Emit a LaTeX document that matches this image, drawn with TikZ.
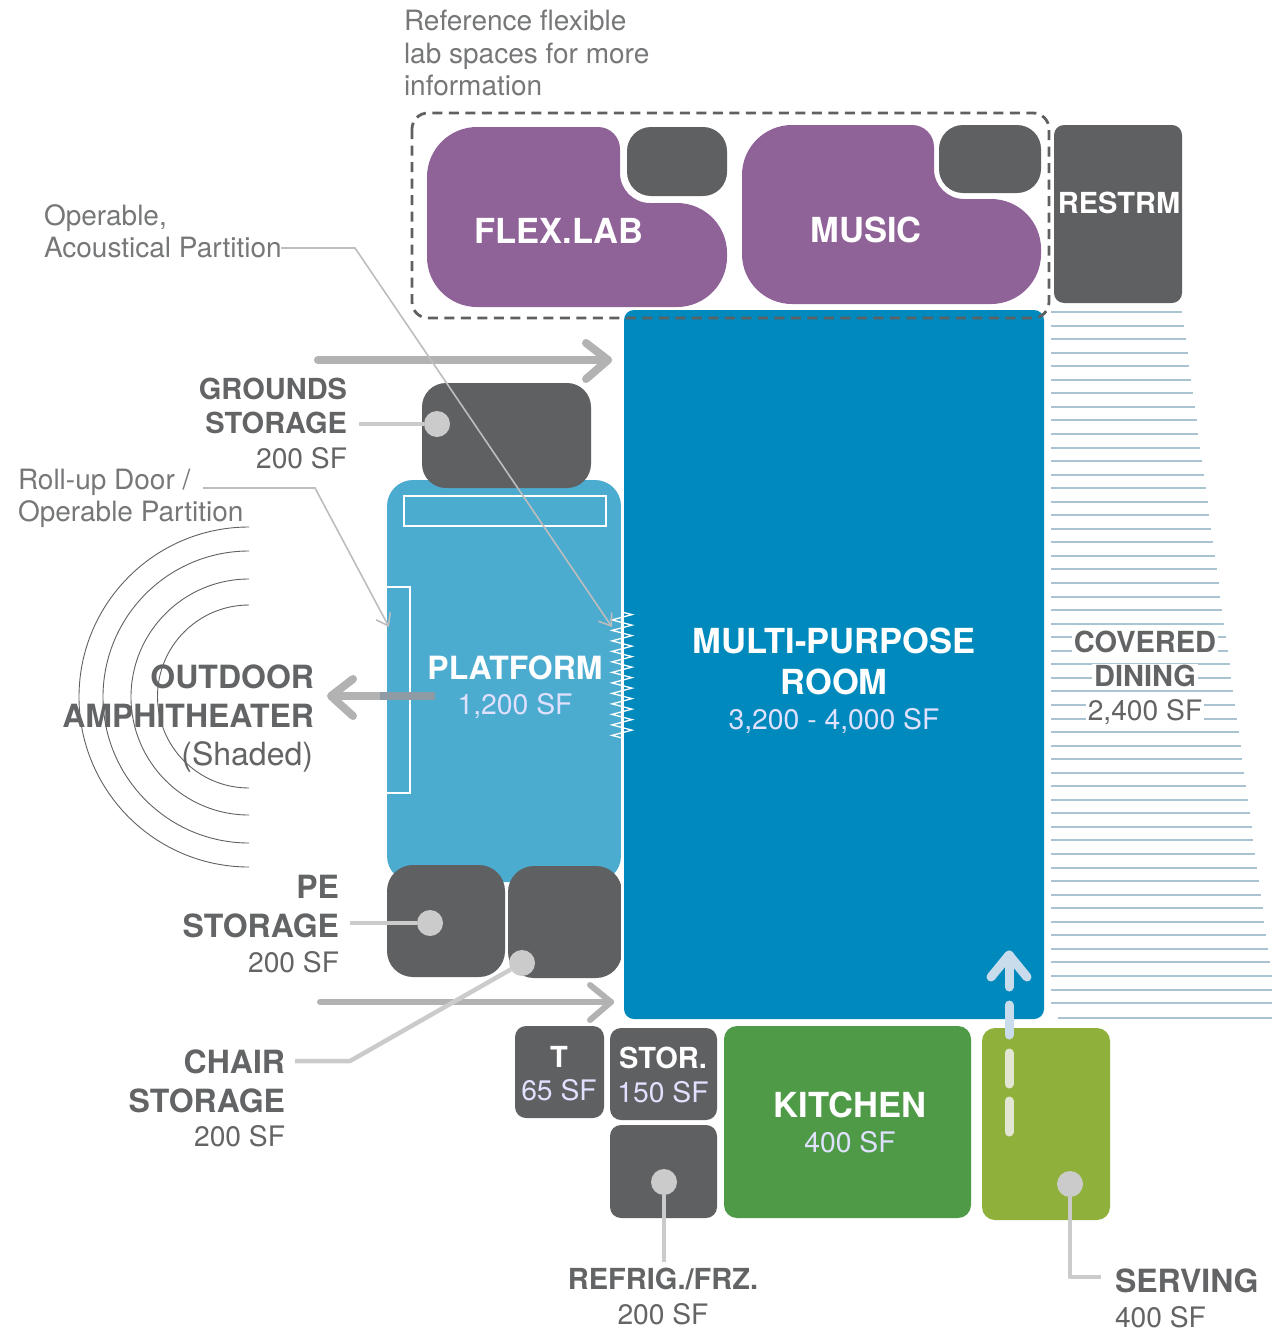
\documentclass[tikz,border=0pt]{standalone}
\usepackage{fontspec}
\setmainfont{TeX Gyre Heros}
\usetikzlibrary{decorations.pathmorphing,arrows.meta}
\definecolor{grayroom}{HTML}{5F6062}
\definecolor{purproom}{HTML}{8F6298}
\definecolor{mainblue}{HTML}{0089BC}
\definecolor{platblue}{HTML}{4CACD0}
\definecolor{kitgreen}{HTML}{4E9A47}
\definecolor{servgreen}{HTML}{8FB13B}
\definecolor{leadgray}{HTML}{CBCBCB}
\definecolor{thingray}{HTML}{BDBDBD}
\definecolor{notetext}{HTML}{767779}
\definecolor{labeltext}{HTML}{636466}
\definecolor{arrowgray}{HTML}{B2B2B2}
\definecolor{arrowdark}{HTML}{8E9BA4}
\definecolor{stripeblue}{HTML}{A9C3D3}
\definecolor{uparrow}{HTML}{C8DCEB}
\definecolor{dashpale}{HTML}{E3E6D3}
\newcommand{\boxroom}[6]{\fill[#1,rounded corners=#2] (#3,#4) rectangle (#5,#6);}
\newcommand{\labshape}[6]{%
  \fill[purproom] (#1,#4-60) [rounded corners=50] -- (#1,#2) [rounded corners=22] -- (#3,#2)
    [rounded corners=30] -- (#3,#6) [rounded corners=50] -- (#5,#6) -- (#5,#4) -- (#1,#4) [sharp corners] -- cycle;}
\newcommand{\chevron}[6]{\draw[#1,line cap=round,line join=round] (#2,#3) -- (#4,#5) -- #6;}
\tikzset{
  every node/.style={inner sep=0pt,outer sep=0pt},
  note/.style={text=notetext,font=\fontsize{28}{32}\selectfont,align=left},
  lab/.style={text=labeltext,font=\bfseries\fontsize{29}{36}\selectfont,align=right,anchor=base east},
  labbig/.style={lab,font=\bfseries\fontsize{32}{36}\selectfont},
  sflab/.style={text=labeltext,font=\fontsize{28.2}{36}\selectfont},
  roomw/.style={text=white,font=\bfseries\fontsize{34.5}{40}\selectfont},
  roomsm/.style={text=white,font=\bfseries\fontsize{29}{30}\selectfont,anchor=base},
  sfw/.style={text=white!88!blue,font=\fontsize{28.3}{30}\selectfont},
  leader/.style={draw=leadgray,line width=4.5pt,line join=round},
  thinlead/.style={draw=thingray,line width=1.6pt},
  dot/.style={circle,fill=leadgray,minimum size=26pt},
  arc line/.style={draw=black!62,line width=0.9pt},
  stripe/.style={draw=stripeblue,line width=2pt},
  thick arrow/.style={draw=arrowgray,line width=8pt,line cap=round,line join=round},
}
\begin{document}
\begin{tikzpicture}[x=1pt,y=-1pt]
\useasboundingbox (0,0) rectangle (1272,1330);

% covered dining stripes
\foreach \i in {0,...,51}{
  \pgfmathsetmacro{\yy}{312+\i*13.55}
  \pgfmathsetmacro{\xr}{min(1272,1182+(\yy-312)*0.135)}
  \draw[stripe] (1051,\yy) -- (\xr,\yy);
}
\draw[stripe] (1058,1018) -- (1272,1018);

% rooms
\boxroom{mainblue}{10}{624}{310}{1044}{1019}
\fill[platblue,rounded corners=26] (387,480) rectangle (621,882);
\boxroom{grayroom}{24}{422}{383}{591}{488}
\boxroom{grayroom}{26}{387}{865}{505}{977}
\boxroom{grayroom}{26}{508}{866}{622}{978}
\boxroom{grayroom}{11}{515}{1026}{604}{1118}
\boxroom{grayroom}{11}{610}{1028}{717}{1120}
\boxroom{grayroom}{11}{610}{1125}{717}{1218}
\boxroom{kitgreen}{13}{724}{1026}{971}{1218}
\boxroom{servgreen}{13}{982}{1028}{1110}{1220}
\boxroom{grayroom}{10}{1054}{125}{1182}{303}
\labshape{427}{127}{620}{307}{727}{203}
\labshape{742}{125}{934}{304}{1041}{199}
\boxroom{grayroom}{24}{627}{127}{727}{196}
\boxroom{grayroom}{24}{939}{125}{1041}{193}
\draw[grayroom,line width=2.8pt,dash pattern=on 10pt off 6.5pt,rounded corners=16] (412,113) rectangle (1049,318);

% platform details
\draw[white,line width=2.6pt] (404,496) rectangle (606,526);
\draw[white,line width=2.2pt] (387,587) -- (410,587) -- (410,793) -- (387,793);
\draw[white,line width=1.2pt] (622,480) -- (622,1000);
\draw[white,line width=1.3pt,decorate,decoration={zigzag,segment length=10.5pt,amplitude=10pt}] (622,612) -- (622,738);

% amphitheater arcs
\foreach \t/\b in {527/867,551/843,579/815,605/788}{
  \pgfmathsetmacro{\rr}{(\b-\t)/2}
  \draw[arc line] (249,\t) arc[start angle=-90,end angle=-270,radius=\rr];
}

% movement arrows
\coordinate (topstart) at (318,360);
\coordinate (toptip) at (608,360);
\draw[thick arrow] (topstart) -- (toptip);
\chevron{thick arrow}{586}{343}{608}{360}{(586,379)}
\coordinate (botstart) at (320,1002);
\coordinate (bottip) at (611,1002);
\draw[thick arrow,line width=6pt] (botstart) -- (bottip);
\chevron{thick arrow,line width=6pt}{590}{985}{611}{1002}{(590,1020)}
\coordinate (amphtip) at (331,696);
\coordinate (ampstart) at (380,696);
\coordinate (ampend) at (435,696);
\draw[thick arrow,line cap=butt] (amphtip) -- (ampstart);
\chevron{thick arrow}{353}{679}{331}{696}{(353,716)}
\draw[draw=arrowdark,line width=8pt] (ampstart) -- (ampend);
\coordinate (uptip) at (1009,955);
\draw[draw=uparrow,line width=9pt,line cap=round,line join=round] (991,977) -- (uptip) -- (1027,977);
\draw[draw=uparrow,line width=9pt,line cap=round] (uptip) -- (1009,987);
\draw[draw=uparrow,line width=9pt,line cap=round] (1009,1005) -- (1009,1035);
\foreach \a/\b in {1053/1084,1101/1132}{
  \draw[draw=dashpale,line width=9pt,line cap=round] (1009,\a) -- (1009,\b);
}

% thin leaders
\node[note,anchor=base west] (opnote) at (44,257) {Operable,\\Acoustical Partition};
\coordinate (opstart) at (281,248);
\coordinate (opbend) at (355,248);
\coordinate (optip) at (612,627);
\draw[thinlead,-{Straight Barb[length=11pt,width=16pt]}] (opstart) -- (opbend) -- (optip);
\node[note,anchor=base west] (rollnote) at (18,521) {Roll-up Door /\\Operable Partition};
\coordinate (rollstart) at (203,488);
\coordinate (rollbend) at (315,488);
\coordinate (rolltip) at (389,627);
\draw[thinlead,-{Straight Barb[length=11pt,width=16pt]}] (rollstart) -- (rollbend) -- (rolltip);
\node[note,anchor=base west] (flexnote) at (404,95) {Reference flexible\\lab spaces for more\\information};

% label leaders
\node[dot] (grdot) at (437,424) {};
\coordinate (grstart) at (359,424);
\draw[leader] (grstart) -- (grdot);
\node[dot] (pedot) at (430,923) {};
\coordinate (pestart) at (350,923);
\draw[leader] (pestart) -- (pedot);
\node[dot] (chdot) at (522,963) {};
\coordinate (chstart) at (295,1061);
\coordinate (chbend) at (350,1061);
\draw[leader] (chstart) -- (chbend) -- (chdot);
\node[dot] (redot) at (664,1182) {};
\coordinate (reend) at (664,1262);
\draw[leader] (redot) -- (reend);
\node[dot] (sedot) at (1070,1184) {};
\coordinate (sebend) at (1070,1277);
\coordinate (seend) at (1101,1277);
\draw[leader] (sedot) -- (sebend) -- (seend);

% room labels
\node[roomw,anchor=base] (flexlab) at (559,243) {FLEX.LAB};
\node[roomw,anchor=base] (music) at (866,242) {MUSIC};
\node[roomsm] (restrm) at (1119,213) {RESTRM};
\node[roomw,anchor=base] (mpra) at (834,653) {MULTI-PURPOSE};
\node[roomw,anchor=base] (mprb) at (834,694) {ROOM};
\node[sfw,anchor=base] (mprc) at (834,729) {3,200 - 4,000 SF};
\node[roomw,font=\bfseries\fontsize{32}{40}\selectfont,anchor=base] (plat) at (515,679) {PLATFORM};
\node[sfw,anchor=base] (platsf) at (515,714) {1,200 SF};
\node[roomw,anchor=base] (kit) at (850,1117) {KITCHEN};
\node[sfw,anchor=base] (kitsf) at (850,1152) {400 SF};
\node[roomsm] (tname) at (559,1067) {T};
\node[sfw,anchor=base] (tsf) at (559,1100) {65 SF};
\node[roomsm] (stname) at (663,1068) {STOR.};
\node[sfw,anchor=base] (stsf) at (663,1102) {150 SF};

% outer labels
\node[lab] (gra) at (347,399) {GROUNDS};
\node[lab] (grb) at (347,433) {STORAGE};
\node[sflab,anchor=base east] (grc) at (347,468) {200 SF};
\node[labbig] (oua) at (314,688) {OUTDOOR};
\node[labbig] (oub) at (314,727) {AMPHITHEATER};
\node[sflab,anchor=base east,font=\fontsize{32}{36}\selectfont] (ouc) at (313,765) {(Shaded)};
\node[labbig] (pea) at (339,898) {PE};
\node[labbig] (peb) at (339,937) {STORAGE};
\node[sflab,anchor=base east] (pec) at (339,972) {200 SF};
\node[labbig] (cha) at (285,1073) {CHAIR};
\node[labbig] (chb) at (285,1112) {STORAGE};
\node[sflab,anchor=base east] (chc) at (285,1146) {200 SF};
\node[lab,anchor=base] (rea) at (663,1289) {REFRIG./FRZ.};
\node[sflab,anchor=base] (resf) at (663,1324) {200 SF};
\node[labbig,anchor=base west] (sea) at (1115,1292) {SERVING};
\node[sflab,anchor=base west] (sesf) at (1115,1327) {400 SF};
\node[lab,anchor=base,fill=white,inner xsep=2pt,inner ysep=1pt] (cda) at (1145,652) {COVERED};
\node[lab,anchor=base,fill=white,inner xsep=2pt,inner ysep=1pt] (cdb) at (1145,686) {DINING};
\node[sflab,anchor=base,fill=white,inner xsep=2pt,inner ysep=1pt] (cdc) at (1145,720) {2,400 SF};
\end{tikzpicture}
\end{document}
